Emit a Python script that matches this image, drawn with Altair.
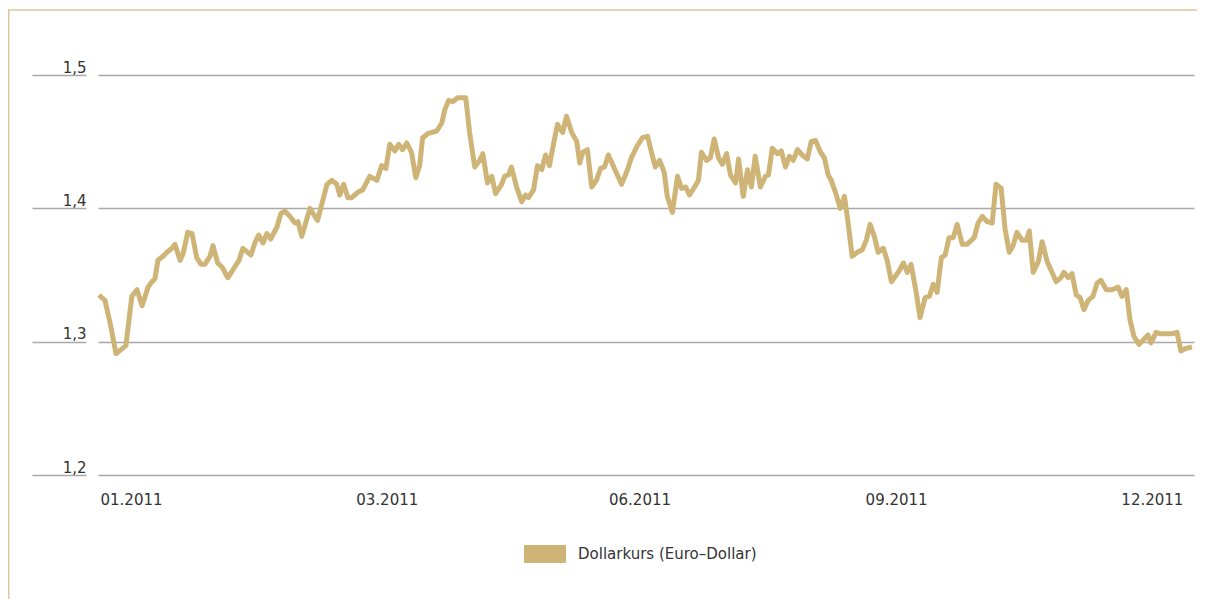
import altair as alt
import pandas as pd

# Handelstag-Index (0 = erster Handelstag 2011) und Kurs EUR/USD
tag = [0.0, 1.4, 2.6, 4.0, 6.3, 7.7, 8.9, 10.1, 11.5, 12.4, 13.1, 13.8, 15.0, 15.9, 17.1, 17.8,
       19.0, 19.7, 20.8, 21.8, 22.9, 23.9, 24.8, 26.0, 26.7, 27.8, 28.8, 30.2, 31.8, 32.8, 33.7,
       35.6, 36.5, 37.4, 38.4, 39.3, 40.2, 41.7, 42.6, 43.5, 44.7, 45.9, 46.6, 47.5, 49.4, 51.2,
       53.4, 54.5, 55.7, 56.4, 57.3, 58.3, 59.2, 60.6, 61.8, 63.4, 65.1, 66.2, 67.2, 68.1, 69.3,
       70.2, 71.1, 72.1, 73.2, 74.2, 75.1, 75.8, 77.0, 79.1, 80.3, 81.0, 81.9, 82.9, 84.0, 85.0,
       85.9, 86.8, 88.0, 89.2, 89.9, 91.0, 92.0, 92.9, 94.3, 95.0, 95.9, 96.6, 97.8, 99.0, 99.9,
       100.6, 101.8, 102.7, 103.7, 104.6, 105.5, 106.5, 107.4, 108.6, 109.5, 110.7, 111.9, 112.6,
       113.3, 114.4, 115.4, 116.5, 117.5, 118.4, 119.3, 120.7, 122.4, 123.8, 124.7, 126.1, 127.3,
       128.5, 129.4, 130.3, 131.3, 132.4, 133.1, 134.3, 135.5, 136.4, 137.4, 138.3, 139.5, 140.4,
       141.1, 142.3, 143.2, 144.1, 145.1, 146.0, 147.0, 147.9, 149.1, 149.8, 150.9, 151.9, 152.8,
       153.7, 154.9, 156.1, 156.8, 157.7, 158.9, 159.8, 160.8, 161.7, 162.6, 163.6, 164.7, 165.9,
       166.8, 167.8, 169.0, 169.9, 170.8, 171.5, 172.7, 173.6, 174.6, 175.5, 176.4, 177.6, 178.8,
       179.7, 180.6, 181.6, 182.5, 183.7, 184.6, 185.6, 187.2, 188.4, 189.3, 190.2, 191.4, 192.3,
       193.5, 194.5, 195.4, 196.3, 197.3, 198.2, 199.1, 200.1, 201.0, 202.2, 203.3, 205.0, 205.9,
       206.9, 208.0, 209.2, 210.1, 211.3, 212.2, 213.2, 214.1, 215.0, 216.2, 217.2, 217.9, 218.8,
       220.0, 220.9, 222.1, 224.2, 225.3, 226.0, 227.0, 227.9, 228.9, 229.8, 230.7, 231.7, 232.8,
       233.8, 234.7, 235.9, 237.3, 238.7, 239.6, 240.6, 241.5, 242.4, 243.6, 244.8, 245.7, 246.4,
       247.6, 248.5, 249.9, 251.3, 252.5, 253.4, 254.6, 256.0]

kurs = [1.335, 1.331, 1.314, 1.291, 1.297, 1.334, 1.339, 1.327, 1.341, 1.345, 1.347, 1.361, 1.364,
        1.367, 1.370, 1.373, 1.361, 1.366, 1.382, 1.381, 1.363, 1.358, 1.358, 1.364, 1.372, 1.359,
        1.356, 1.348, 1.356, 1.361, 1.370, 1.365, 1.374, 1.380, 1.374, 1.381, 1.377, 1.386, 1.396,
        1.398, 1.394, 1.389, 1.390, 1.379, 1.400, 1.391, 1.418, 1.421, 1.418, 1.410, 1.418, 1.408,
        1.408, 1.412, 1.414, 1.424, 1.421, 1.432, 1.430, 1.448, 1.443, 1.448, 1.444, 1.449, 1.442,
        1.423, 1.432, 1.453, 1.456, 1.458, 1.464, 1.474, 1.481, 1.480, 1.483, 1.483, 1.483, 1.457,
        1.431, 1.436, 1.441, 1.419, 1.424, 1.411, 1.418, 1.424, 1.425, 1.431, 1.416, 1.405, 1.410,
        1.408, 1.414, 1.432, 1.429, 1.440, 1.432, 1.449, 1.463, 1.457, 1.469, 1.457, 1.450, 1.434,
        1.442, 1.444, 1.416, 1.421, 1.430, 1.431, 1.440, 1.430, 1.418, 1.429, 1.438, 1.447, 1.453,
        1.454, 1.442, 1.431, 1.436, 1.427, 1.409, 1.397, 1.424, 1.415, 1.416, 1.410, 1.416, 1.421,
        1.442, 1.436, 1.438, 1.452, 1.438, 1.433, 1.441, 1.425, 1.419, 1.437, 1.409, 1.429, 1.416,
        1.439, 1.416, 1.424, 1.425, 1.445, 1.441, 1.443, 1.431, 1.439, 1.436, 1.444, 1.440, 1.437,
        1.450, 1.451, 1.442, 1.438, 1.425, 1.421, 1.410, 1.400, 1.409, 1.388, 1.364, 1.367, 1.369,
        1.376, 1.388, 1.379, 1.367, 1.370, 1.361, 1.345, 1.352, 1.359, 1.352, 1.358, 1.337, 1.318,
        1.333, 1.334, 1.343, 1.337, 1.363, 1.365, 1.378, 1.378, 1.388, 1.373, 1.373, 1.378, 1.389,
        1.394, 1.390, 1.389, 1.418, 1.415, 1.385, 1.367, 1.372, 1.382, 1.376, 1.376, 1.383, 1.352,
        1.360, 1.375, 1.360, 1.345, 1.348, 1.352, 1.348, 1.351, 1.335, 1.333, 1.324, 1.331, 1.334,
        1.344, 1.346, 1.339, 1.339, 1.341, 1.334, 1.339, 1.316, 1.304, 1.298, 1.302, 1.305, 1.299,
        1.307, 1.306, 1.306, 1.306, 1.307, 1.293, 1.295, 1.296]

tick_pos = [7.5, 67.4, 126.6, 186.7, 246.6]
tick_labels = ["01.2011", "03.2011", "06.2011", "09.2011", "12.2011"]
y_ticks = [1.2, 1.3, 1.4, 1.5]
serie = "Dollarkurs (Euro–Dollar)"

GOLD = "#CEB476"
FRAME = "#DCC79B"
GRID = "#A9A9A9"
TEXT = "#333333"
FONT = "DejaVu Sans"
FSIZE = 15

df = pd.DataFrame({"tag": tag, "kurs": kurs, "serie": serie})

label_expr = "[" + ",".join(f"'{s}'" for s in tick_labels) + "][indexof([" + \
    ",".join(str(v) for v in tick_pos) + "], datum.value)]"

line = alt.Chart(df).mark_line(strokeWidth=5, strokeJoin="round", strokeCap="butt").encode(
    x=alt.X("tag:Q",
            scale=alt.Scale(domain=[-0.23, 256.47], nice=False, zero=False),
            axis=alt.Axis(title=None, values=tick_pos, labelExpr=label_expr,
                          grid=False, domain=False, ticks=False, tickSize=0,
                          labelPadding=29, labelBaseline="alphabetic",
                          labelFont=FONT, labelFontSize=FSIZE, labelColor=TEXT)),
    y=alt.Y("kurs:Q",
            scale=alt.Scale(domain=[1.2, 1.5], nice=False, zero=False),
            axis=alt.Axis(title=None, values=y_ticks,
                          labelExpr="replace(format(datum.value, '.1f'), '.', ',')",
                          grid=True, gridColor=GRID, gridWidth=1.3,
                          domain=False, ticks=True, tickSize=54, tickColor=GRID, tickWidth=1.3,
                          offset=12, labelPadding=-54, labelAlign="right",
                          labelBaseline="alphabetic", labelOffset=-3,
                          labelFont=FONT, labelFontSize=FSIZE, labelColor=TEXT)),
    color=alt.Color("serie:N", scale=alt.Scale(range=[GOLD]),
                    legend=alt.Legend(title=None, orient="none", legendX=426, legendY=458,
                                      symbolType="M-1,-0.43H1V0.43H-1Z", symbolSize=1764,
                                      symbolFillColor=GOLD, symbolStrokeWidth=0,
                                      labelOffset=12, padding=0, labelLimit=0,
                                      labelFont=FONT, labelFontSize=FSIZE, labelColor=TEXT)),
)

frame_df = pd.DataFrame({"k": [0]})
frame_top = alt.Chart(frame_df).mark_rule(color=FRAME, strokeWidth=1.5).encode(
    x=alt.value(-90), x2=alt.value(1110), y=alt.value(-65))
frame_left = alt.Chart(frame_df).mark_rule(color=FRAME, strokeWidth=1.5).encode(
    x=alt.value(-89.3), y=alt.value(-65), y2=alt.value(530))

chart = alt.layer(frame_top, frame_left, line).properties(
    width=1096, height=400,
    padding={"left": 90, "top": 67, "right": 3, "bottom": 124},
    autosize="none",
).configure_view(stroke=None)

chart.save("out.html", embed_options={"renderer": "svg", "actions": False})
